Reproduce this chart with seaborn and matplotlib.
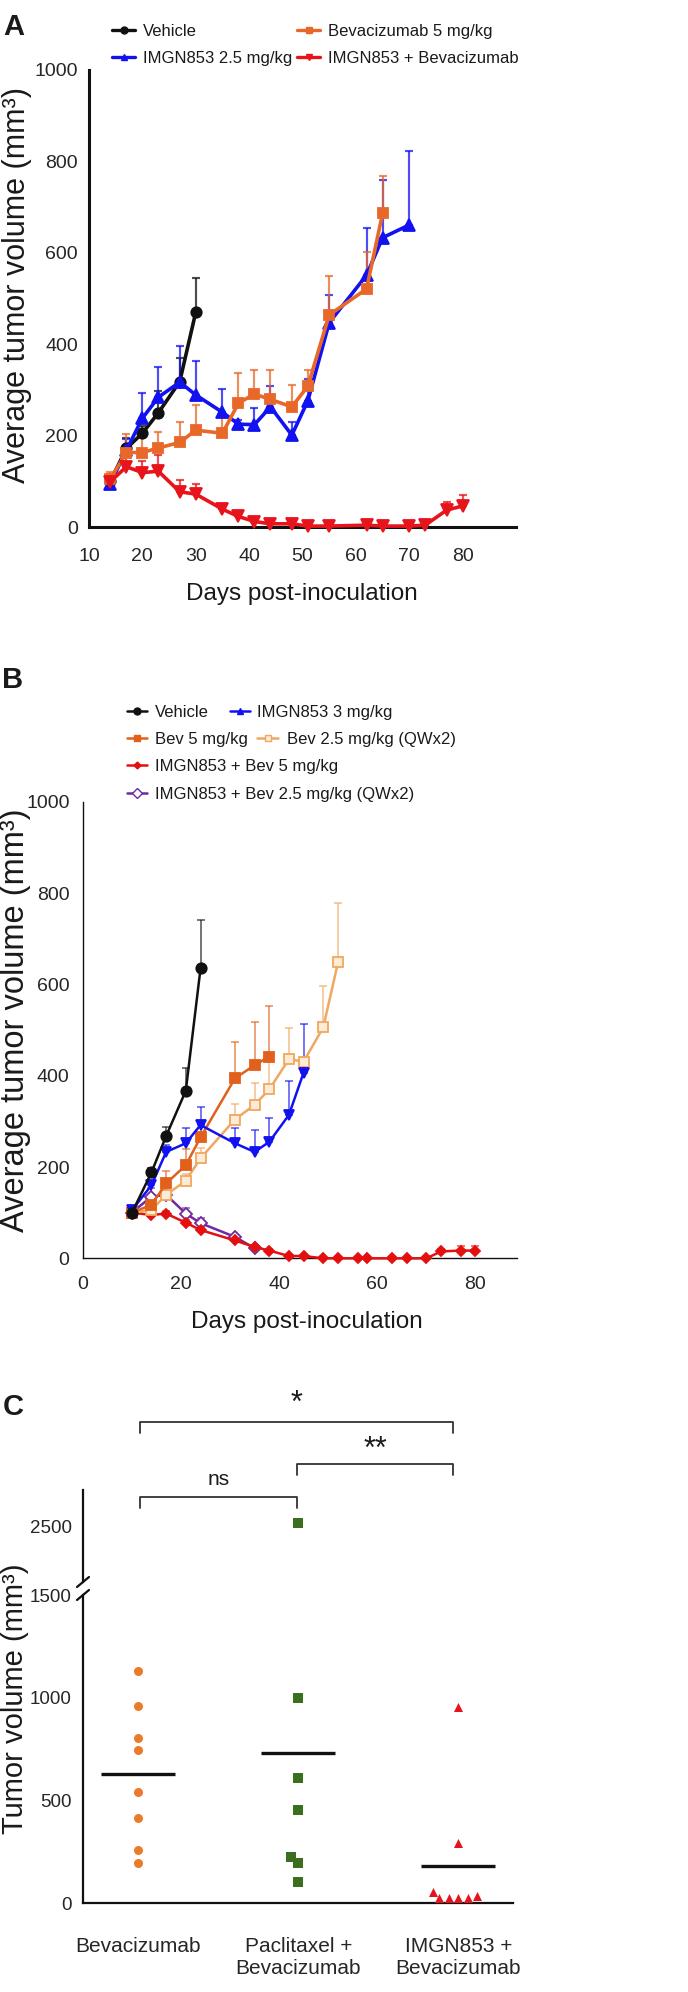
import numpy as np
import seaborn as sns
import matplotlib.pyplot as plt
from matplotlib.lines import Line2D
from matplotlib import transforms

# ---- panel A data (days post-inoculation, mean volume, upper error) ----
veh_a_days = [14, 17, 20, 23, 27, 30]
veh_a = [100, 172, 205, 250, 318, 470]
veh_a_err = [12, 22, 15, 48, 52, 75]

imgn_a_days = [14, 17, 20, 23, 27, 30, 35, 38, 41, 44, 48, 51, 55, 62, 65, 70]
imgn_a = [95, 168, 238, 284, 317, 289, 251, 225, 224, 263, 201, 276, 447, 551, 633, 661]
imgn_a_err = [10, 25, 56, 67, 80, 75, 52, 10, 36, 45, 29, 47, 60, 104, 126, 162]

bev_a_days = [14, 17, 20, 23, 27, 30, 35, 38, 41, 44, 48, 51, 55, 62, 65]
bev_a = [105, 163, 163, 173, 185, 212, 205, 271, 291, 279, 263, 308, 464, 521, 686]
bev_a_err = [15, 40, 35, 35, 45, 55, 44, 67, 53, 65, 48, 36, 85, 80, 83]

combo_a_days = [14, 17, 20, 23, 27, 30, 35, 38, 41, 44, 48, 51, 55, 62, 65, 70, 73, 77, 80]
combo_a = [99, 132, 119, 122, 77, 72, 39, 23, 12, 7, 7, 2, 2, 4, 2, 2, 4, 37, 46]
combo_a_err = [10, 22, 25, 35, 25, 22, 10, 8, 5, 3, 3, 2, 2, 3, 2, 2, 3, 18, 25]

# ---- panel B data ----
veh_b_days = [10, 14, 17, 21, 24]
veh_b = [99, 188, 268, 367, 635]
veh_b_err = [5, 10, 20, 49, 105]

imgn_b_days = [10, 14, 17, 21, 24, 31, 35, 38, 42, 45]
imgn_b = [105, 160, 233, 252, 292, 252, 233, 255, 314, 407]
imgn_b_err = [5, 10, 15, 33, 40, 33, 48, 52, 75, 106]

bev5_b_days = [10, 14, 17, 21, 24, 31, 35, 38]
bev5_b = [100, 117, 164, 204, 265, 394, 423, 442]
bev5_b_err = [5, 10, 28, 35, 30, 80, 94, 111]

bev25_b_days = [10, 14, 17, 21, 24, 31, 35, 38, 42, 45, 49, 52]
bev25_b = [100, 106, 139, 170, 219, 304, 336, 370, 436, 431, 506, 648]
bev25_b_err = [5, 8, 12, 15, 22, 34, 47, 60, 68, 10, 90, 130]

combo5_b_days = [10, 14, 17, 21, 24, 31, 35, 38, 42, 45, 49, 52, 56, 58, 63, 66, 70, 73, 77, 80]
combo5_b = [100, 95, 98, 78, 62, 39, 25, 17, 5, 5, 0, 0, 0, 0, 0, 0, 0, 15, 17, 17]
combo5_b_err = [3, 5, 5, 5, 5, 5, 4, 3, 2, 2, 1, 1, 1, 1, 1, 1, 1, 5, 10, 10]

combo25_b_days = [10, 14, 17, 21, 24, 31, 35]
combo25_b = [100, 135, 139, 98, 77, 47, 22]
combo25_b_err = [5, 20, 25, 12, 12, 5, 5]

# ---- panel C data ----
groups_c = ['Bevacizumab', 'Paclitaxel +\nBevacizumab', 'IMGN853 +\nBevacizumab']
bev_c = [1129, 959, 806, 745, 540, 414, 261, 198]
pac_c = [2520, 997, 612, 455, 225, 196, 104]
imgn_c = [956, 293, 56, 35, 24, 24, 24, 24]

W, H = 688, 1992
sns.set_style('white')
REG = ['Liberation Sans', 'DejaVu Sans']
plt.rcParams['font.family'] = REG
plt.rcParams['text.color'] = '#1a1a1a'


def fx(px):
    return px / W


def fy(py):
    return 1 - py / H


def box(left, right, top, bottom):
    return [fx(left), fy(bottom), (right - left) / W, (bottom - top) / H]


fig = plt.figure(figsize=(W / 100, H / 100), dpi=100)


def series(ax, days, vals, errs, color, marker, ms, lw, mfc=None):
    ax.errorbar(days, vals, yerr=[np.zeros(len(errs)), errs], fmt='none',
                ecolor=color, elinewidth=lw * 0.6, capsize=3,
                capthick=lw * 0.6, alpha=0.75, clip_on=False, zorder=2)
    sns.lineplot(x=days, y=vals, color=color, marker=marker, markersize=ms,
                 linewidth=lw, markerfacecolor=mfc or color, markeredgecolor=color,
                 markeredgewidth=1.3, ax=ax, clip_on=False, legend=False, zorder=3)


def legend_entry(x0, x1, y, tx, label, color, marker, ms, lw, mfc=None, fs=12):
    xm = (x0 + x1) / 2
    fig.add_artist(Line2D([fx(x0), fx(xm), fx(x1)], [fy(y)] * 3, color=color, lw=lw,
                          marker=marker, markevery=[1], ms=ms, mfc=mfc or color, mec=color))
    fig.text(fx(tx), fy(y + 6), label, fontsize=fs, va='baseline', ha='left')


# ================= Panel A =================
ax = fig.add_axes(box(89, 516, 70, 527))
BLACK, BLUE, ORANGE, RED = '#111111', '#1212f0', '#e8682a', '#e8141c'
series(ax, veh_a_days, veh_a, veh_a_err, BLACK, 'o', 7.5, 2.6)
series(ax, imgn_a_days, imgn_a, imgn_a_err, BLUE, '^', 8, 2.6)
series(ax, bev_a_days, bev_a, bev_a_err, ORANGE, 's', 7.5, 2.6)
series(ax, combo_a_days, combo_a, combo_a_err, RED, 'v', 8, 2.6)
ax.set_xlim(10, 90)
ax.set_ylim(0, 1000)
ax.set_xticks(range(10, 91, 10))
ax.set_xticklabels([str(v) for v in range(10, 81, 10)] + [''])
ax.set_yticks(range(0, 1001, 200))
for s in ['top', 'right']:
    ax.spines[s].set_visible(False)
for s in ['left', 'bottom']:
    ax.spines[s].set_linewidth(2.2)
    ax.spines[s].set_color('#111111')
ax.tick_params(axis='x', direction='out', length=7, width=2, pad=8, labelsize=14)
ax.tick_params(axis='y', direction='out', length=6, width=2, pad=2, labelsize=14)
ax.set_xlabel('')
ax.set_ylabel('')
fig.text(fx(302), fy(583), 'Days post-inoculation', fontsize=17.5, ha='center', va='top')
fig.text(fx(17), fy(285), 'Average tumor volume (mm³)', fontsize=22, rotation=90,
         ha='center', va='center')
fig.text(fx(3), fy(13), 'A', fontsize=21, fontweight='bold', va='top')

legend_entry(112, 135, 30, 143, 'Vehicle', BLACK, 'o', 5, 2.4)
legend_entry(112, 135, 57, 143, 'IMGN853 2.5 mg/kg', BLUE, '^', 5, 2.4)
legend_entry(297, 320, 30, 328, 'Bevacizumab 5 mg/kg', ORANGE, 's', 5, 2.4)
legend_entry(297, 320, 57, 328, 'IMGN853 + Bevacizumab', RED, 'v', 5, 2.4)

# ================= Panel B =================
ax = fig.add_axes(box(82.7, 517.2, 801.8, 1258.3))
BEV5, BEV25, PURPLE, RED_B = '#e0601c', '#f0a860', '#6e2a9e', '#e41010'
series(ax, combo25_b_days, combo25_b, combo25_b_err, PURPLE, 'D', 6, 1.8, mfc='white')
series(ax, combo5_b_days, combo5_b, combo5_b_err, RED_B, 'D', 5, 1.8)
series(ax, bev25_b_days, bev25_b, bev25_b_err, BEV25, 's', 7, 1.8, mfc='#fdebd6')
series(ax, bev5_b_days, bev5_b, bev5_b_err, BEV5, 's', 7, 1.8)
series(ax, imgn_b_days, imgn_b, imgn_b_err, BLUE, 'v', 7.5, 1.8)
series(ax, veh_b_days, veh_b, veh_b_err, BLACK, 'o', 7.5, 1.8)
ax.set_xlim(0, 88.5)
ax.set_ylim(0, 1000)
ax.set_xticks([0, 20, 40, 60, 80, 88.5])
ax.set_xticklabels(['0', '20', '40', '60', '80', ''])
ax.set_yticks(range(0, 1001, 200))
for s in ['top', 'right']:
    ax.spines[s].set_visible(False)
for s in ['left', 'bottom']:
    ax.spines[s].set_linewidth(1.0)
    ax.spines[s].set_color('#111111')
ax.tick_params(axis='x', direction='out', length=6, width=1, pad=7, labelsize=14)
ax.tick_params(axis='y', direction='out', length=6.5, width=1, pad=3, labelsize=14)
ax.set_xlabel('')
ax.set_ylabel('')
fig.text(fx(307), fy(1311), 'Days post-inoculation', fontsize=17.5, ha='center', va='top')
fig.text(fx(16), fy(1020), 'Average tumor volume (mm³)', fontsize=23.5, rotation=90,
         ha='center', va='center')
fig.text(fx(2), fy(666), 'B', fontsize=21, fontweight='bold', va='top')

legend_entry(127, 147, 711, 155, 'Vehicle', BLACK, 'o', 5, 1.8)
legend_entry(230, 250, 711, 257, 'IMGN853 3 mg/kg', BLUE, '^', 4.5, 1.8)
legend_entry(127, 147, 738, 155, 'Bev 5 mg/kg', BEV5, 's', 5, 1.8)
legend_entry(257, 278, 738, 287, 'Bev 2.5 mg/kg (QWx2)', BEV25, 's', 5, 1.8, mfc='#fdebd6')
legend_entry(127, 147, 765, 155, 'IMGN853 + Bev 5 mg/kg', RED_B, 'D', 3.5, 1.8)
legend_entry(127, 147, 793, 155, 'IMGN853 + Bev 2.5 mg/kg (QWx2)', PURPLE, 'D', 5, 1.8, mfc='white')

# ================= Panel C =================
ax_lo = fig.add_axes(box(82.7, 513, 1595, 1903.3))
ax_hi = fig.add_axes(box(82.7, 513, 1490, 1582))
GREEN, ORANGE_C, RED_C = '#3b6e1e', '#ec7a2c', '#e4141c'
cutoff = 1500
styles = [(bev_c, ORANGE_C, 'o'), (pac_c, GREEN, 's'), (imgn_c, RED_C, '^')]
for g, (vals, col, mk) in zip(groups_c, styles):
    v = np.array(vals)
    lo = v[v <= cutoff]
    hi = v[v > cutoff]
    sns.swarmplot(x=[g] * len(lo), y=lo, order=groups_c, color=col, marker=mk,
                  size=6.5, linewidth=0, ax=ax_lo)
    if len(hi):
        sns.swarmplot(x=[g] * len(hi), y=hi, order=groups_c, color=col, marker=mk,
                      size=6.5, linewidth=0, ax=ax_hi)
    i = groups_c.index(g)
    ax_lo.hlines(v.mean(), i - 0.23, i + 0.23, color='#111111', lw=2.4, zorder=4)

for a in (ax_lo, ax_hi):
    a.set_xlim(-0.3475, 2.342)
    a.set_xlabel('')
    a.set_ylabel('')
    for s in ['top', 'right']:
        a.spines[s].set_visible(False)
    a.spines['left'].set_linewidth(1.6)
    a.spines['left'].set_color('#111111')
ax_lo.set_ylim(0, 1500)
ax_lo.set_yticks([0, 500, 1000, 1500])
ax_lo.spines['bottom'].set_linewidth(1.6)
ax_lo.spines['bottom'].set_color('#111111')
ax_lo.tick_params(axis='y', direction='out', length=4, width=1.4, pad=4, labelsize=13.5)
ax_lo.tick_params(axis='x', direction='out', length=6, width=1.4, pad=18, labelsize=15)
for t in ax_lo.get_xticklabels():
    t.set_linespacing(1.25)
ax_hi.set_ylim(2200, 2700)
ax_hi.set_yticks([2500])
ax_hi.spines['bottom'].set_visible(False)
ax_hi.set_xticks([])
ax_hi.tick_params(axis='y', direction='out', length=4, width=1.4, pad=4, labelsize=13.5)

# axis break marks
for yb in (1582, 1595):
    fig.add_artist(Line2D([fx(77), fx(89)], [fy(yb + 5), fy(yb - 5)], color='#111111', lw=1.6))

fig.text(fx(15), fy(1699), 'Tumor volume (mm³)', fontsize=21, rotation=90,
         ha='center', va='center')
fig.text(fx(3), fy(1393), 'C', fontsize=21, fontweight='bold', va='top')

# significance brackets
tr = transforms.blended_transform_factory(ax_hi.transData, fig.transFigure)
brackets = [(0.01, 1.97, 1422, '*', 1404, 22), (0.99, 1.97, 1464, '**', 1450, 22),
            (0.01, 0.99, 1497, 'ns', 1479, 15)]
for x0, x1, yb, lab, yt, fs in brackets:
    fig.add_artist(Line2D([x0, x0, x1, x1], [fy(yb + 11), fy(yb), fy(yb), fy(yb + 11)],
                          color='#333333', lw=1.3, transform=tr))
    fig.text((x0 + x1) / 2, fy(yt), lab, fontsize=fs, ha='center', va='center', transform=tr)

fig.savefig('out.png', dpi=100)
